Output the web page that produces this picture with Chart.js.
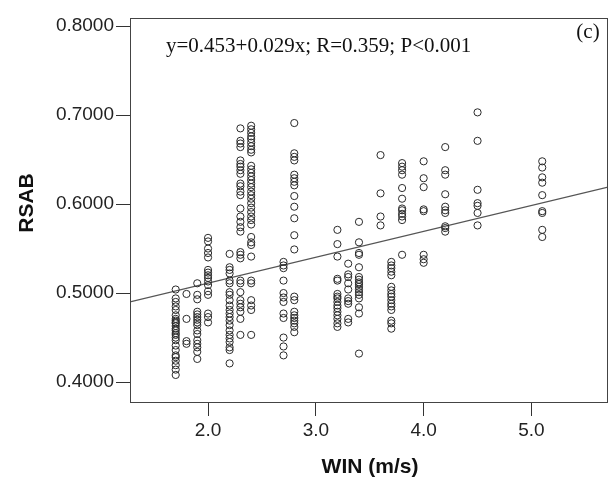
<!DOCTYPE html>
<html>
<head>
<meta charset="utf-8">
<script src="https://cdn.jsdelivr.net/npm/chart.js@4.4.1/dist/chart.umd.min.js"></script>
<style>
  body { margin: 0; background: #fff; }
  canvas { display: block; }
</style>
</head>
<body>
<canvas id="graficRsab" width="613" height="483"></canvas>
<script>
// wind speed classes (x) and RSAB readings at each class
let winLevels = [1.7, 1.8, 1.9, 2.0, 2.2, 2.3, 2.4, 2.7, 2.8, 3.2, 3.3, 3.4, 3.6, 3.7, 3.8, 4.0, 4.2, 4.5, 5.1]

let rsab17 = [0.504,0.494,0.490,0.485,0.481,0.475,0.471,0.469,0.467,0.466,0.463,0.460,0.458,0.455,0.453,0.450,0.447,0.441,0.436,0.430,0.428,0.424,0.419,0.414,0.408]
let rsab18 = [0.499,0.471,0.446,0.443]
let rsab19 = [0.511,0.498,0.493,0.479,0.476,0.473,0.470,0.467,0.464,0.458,0.454,0.447,0.443,0.439,0.434,0.426]
let rsab20 = [0.562,0.558,0.550,0.545,0.540,0.526,0.523,0.520,0.517,0.513,0.509,0.502,0.498,0.477,0.473,0.467]
let rsab22 = [0.544,0.529,0.526,0.522,0.514,0.511,0.501,0.498,0.492,0.486,0.481,0.477,0.473,0.469,0.464,0.458,0.453,0.449,0.445,0.439,0.436,0.421]
let rsab23 = [0.685,0.671,0.668,0.664,0.649,0.645,0.642,0.638,0.634,0.623,0.620,0.614,0.610,0.595,0.586,0.580,0.574,0.569,0.546,0.543,0.539,0.514,0.511,0.501,0.492,0.488,0.484,0.479,0.471,0.453]
let rsab24 = [0.688,0.684,0.680,0.676,0.673,0.669,0.665,0.661,0.658,0.643,0.639,0.635,0.631,0.627,0.623,0.619,0.614,0.610,0.606,0.601,0.596,0.591,0.586,0.582,0.577,0.563,0.557,0.554,0.541,0.514,0.511,0.492,0.486,0.481,0.453]
let rsab27 = [0.535,0.531,0.528,0.514,0.500,0.495,0.490,0.477,0.472,0.450,0.440,0.430]
let rsab28 = [0.691,0.657,0.653,0.649,0.633,0.629,0.625,0.621,0.609,0.597,0.584,0.565,0.549,0.496,0.492,0.479,0.475,0.472,0.469,0.466,0.462,0.456]
let rsab32 = [0.571,0.555,0.541,0.516,0.514,0.499,0.496,0.494,0.490,0.486,0.483,0.479,0.475,0.471,0.466,0.462]
let rsab33 = [0.533,0.521,0.518,0.511,0.504,0.494,0.491,0.488,0.471,0.467]
let rsab34 = [0.580,0.557,0.545,0.543,0.529,0.518,0.515,0.512,0.510,0.507,0.504,0.501,0.498,0.494,0.484,0.477,0.432]
let rsab36 = [0.655,0.612,0.586,0.576]
let rsab37 = [0.535,0.531,0.528,0.524,0.520,0.507,0.503,0.499,0.496,0.492,0.488,0.485,0.481,0.469,0.466,0.460]
let rsab38 = [0.646,0.642,0.638,0.633,0.618,0.606,0.595,0.593,0.589,0.586,0.582,0.543]
let rsab40 = [0.648,0.629,0.619,0.594,0.592,0.543,0.538,0.534]
let rsab42 = [0.664,0.638,0.633,0.611,0.597,0.593,0.590,0.575,0.573,0.569]
let rsab45 = [0.703,0.671,0.616,0.601,0.598,0.590,0.576]
let rsab51 = [0.648,0.641,0.630,0.624,0.610,0.592,0.590,0.571,0.563]

let rsabCols = [rsab17, rsab18, rsab19, rsab20, rsab22, rsab23, rsab24, rsab27, rsab28, rsab32, rsab33, rsab34, rsab36, rsab37, rsab38, rsab40, rsab42, rsab45, rsab51]

// fit line y=0.453+0.029x, read at the two frame edges
let fitX = [1.276, 5.71]
let fitY = [0.490, 0.619]

let xTicks = [2, 3, 4, 5]
let yTicks = [0.4, 0.5, 0.6, 0.7, 0.8]

let eqText = 'y=0.453+0.029x; R=0.359; P<0.001'
let panelText = '(c)'
let xTitle = 'WIN (m/s)'
let yTitle = 'RSAB'

let pontos = []
winLevels.forEach((w, i) => {
  rsabCols[i].forEach(v => pontos.push({x: w, y: v}))
})

let linha = fitX.map((x, i) => ({x: x, y: fitY[i]}))

// box round the plot + the texts
let moldura = {
  id: 'moldura',
  afterDraw(chart) {
    let {ctx, chartArea: a} = chart
    ctx.save()
    ctx.strokeStyle = '#444'
    ctx.lineWidth = 1
    ctx.strokeRect(a.left + 0.5, a.top + 0.5, a.right - a.left - 1, a.bottom - a.top - 1)

    ctx.fillStyle = '#111'
    ctx.font = '21px "Liberation Serif", "Times New Roman", serif'
    ctx.textBaseline = 'middle'
    ctx.textAlign = 'left'
    ctx.fillText(eqText, 166, 46)
    ctx.textAlign = 'center'
    ctx.fillText(panelText, 588, 32)

    ctx.font = 'bold 21px "Liberation Sans", Arial, sans-serif'
    ctx.fillText(xTitle, 370, 467)
    ctx.translate(27, 203)
    ctx.rotate(-Math.PI / 2)
    ctx.fillText(yTitle, 0, 0)
    ctx.restore()
  }
}

let graficRsab = document.getElementById('graficRsab')

new Chart(graficRsab, {
  type: 'scatter',
  data: {
    datasets: [{
      label: 'RSAB',
      data: pontos,
      pointStyle: 'circle',
      pointRadius: 3.6,
      pointBorderWidth: 1,
      pointBorderColor: '#2a2a2a',
      pointBackgroundColor: 'rgba(0,0,0,0)'
    }, {
      type: 'line',
      label: 'fit',
      data: linha,
      borderColor: '#555',
      borderWidth: 1.3,
      pointRadius: 0,
      fill: false
    }]
  },
  options: {
    responsive: false,
    animation: false,
    layout: { padding: { left: 0, right: 4, top: 18, bottom: 0 } },
    plugins: { legend: { display: false }, tooltip: { enabled: false } },
    scales: {
      x: {
        type: 'linear',
        min: fitX[0],
        max: fitX[1],
        afterFit: s => { s.height = 80 },
        afterBuildTicks: s => { s.ticks = xTicks.map(v => ({value: v})) },
        grid: { drawOnChartArea: false, drawTicks: true, tickLength: 13, tickColor: '#333' },
        border: { display: false },
        ticks: {
          padding: 3,
          color: '#222',
          font: { family: '"Liberation Sans", Arial, sans-serif', size: 19 },
          callback: v => v.toFixed(1)
        }
      },
      y: {
        type: 'linear',
        min: 0.3765,
        max: 0.809,
        afterFit: s => { s.width = 130 },
        afterBuildTicks: s => { s.ticks = yTicks.map(v => ({value: v})) },
        grid: { drawOnChartArea: false, drawTicks: true, tickLength: 14, tickColor: '#333' },
        border: { display: false },
        ticks: {
          padding: 2,
          color: '#222',
          font: { family: '"Liberation Sans", Arial, sans-serif', size: 19 },
          callback: v => v.toFixed(4)
        }
      }
    }
  },
  plugins: [moldura]
})
</script>
</body>
</html>
